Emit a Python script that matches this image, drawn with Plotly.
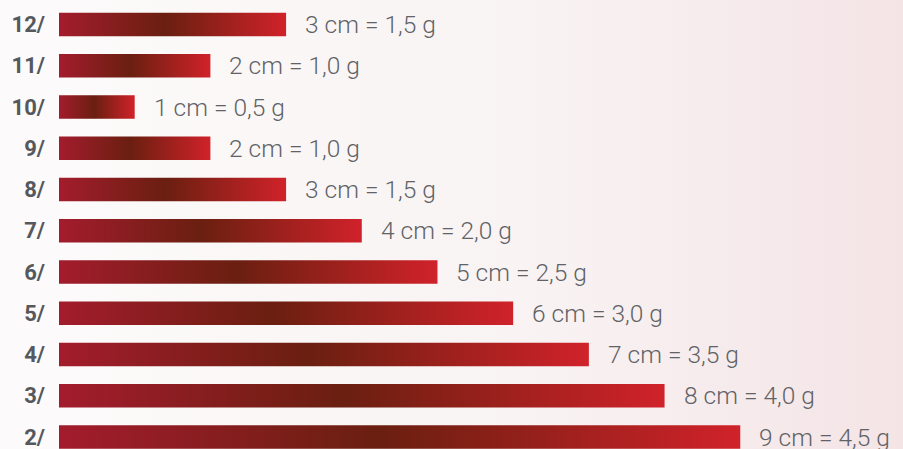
import plotly.graph_objects as go

categories = ["12/", "11/", "10/", "9/", "8/", "7/", "6/", "5/", "4/", "3/", "2/"]
lengths_cm = [3, 2, 1, 2, 3, 4, 5, 6, 7, 8, 9]
grams = ["1,5", "1,0", "0,5", "1,0", "1,5", "2,0", "2,5", "3,0", "3,5", "4,0", "4,5"]
labels = [f"{c} cm = {g} g" for c, g in zip(lengths_cm, grams)]

bar_half = 0.285
grad = [[0, "#A31C2D"], [0.47, "#6A1F10"], [1, "#D0222A"]]
val_color = "#5f6266"
cat_color = "#55585c"

fig = go.Figure()

# background gradient (decorative) on the base axes
fig.add_trace(go.Scatter(
    x=[0, 1, 1, 0, 0], y=[0, 0, 1, 1, 0], xaxis="x", yaxis="y",
    mode="lines", line=dict(width=0), fill="toself",
    fillgradient=dict(type="horizontal",
                      colorscale=[[0, "#fcfafa"], [0.55, "#f9f3f3"], [1, "#f4e4e6"]]),
    hoverinfo="skip", showlegend=False))

for i, (cat, v) in enumerate(zip(categories, lengths_cm)):
    fig.add_trace(go.Scatter(
        x=[0, v, v, 0, 0],
        y=[i - bar_half, i - bar_half, i + bar_half, i + bar_half, i - bar_half],
        xaxis="x2", yaxis="y2",
        mode="lines", line=dict(width=0), fill="toself",
        fillgradient=dict(type="horizontal", colorscale=grad),
        name=cat, showlegend=False, hoverinfo="skip"))
    fig.add_annotation(x=v, y=i, xref="x2", yref="y2", text=labels[i], showarrow=False,
                       xanchor="left", yanchor="middle", xshift=17, yshift=0,
                       font=dict(family="Roboto", size=24.5, color=val_color, weight=300))

fig.update_layout(
    width=903, height=449,
    margin=dict(l=59, r=0, t=0, b=0),
    paper_bgcolor="#fcfafa", plot_bgcolor="rgba(0,0,0,0)",
    xaxis=dict(range=[0, 1], visible=False, fixedrange=True),
    yaxis=dict(range=[0, 1], visible=False, fixedrange=True),
    xaxis2=dict(range=[0, 11.15], visible=False, overlaying="x", anchor="y2"),
    yaxis2=dict(range=[10.291, -0.594], overlaying="y", anchor="x2", side="left",
                tickmode="array",
                tickvals=list(range(len(categories))), ticktext=categories,
                showgrid=False, zeroline=False, showline=False,
                ticks="", ticklabelstandoff=13, ticklabeloverflow="allow",
                tickfont=dict(family="Roboto", size=22, color=cat_color, weight="bold")),
)
fig.write_html("out.html", config={"displayModeBar": False},
               post_script="document.body.style.margin='0';")
